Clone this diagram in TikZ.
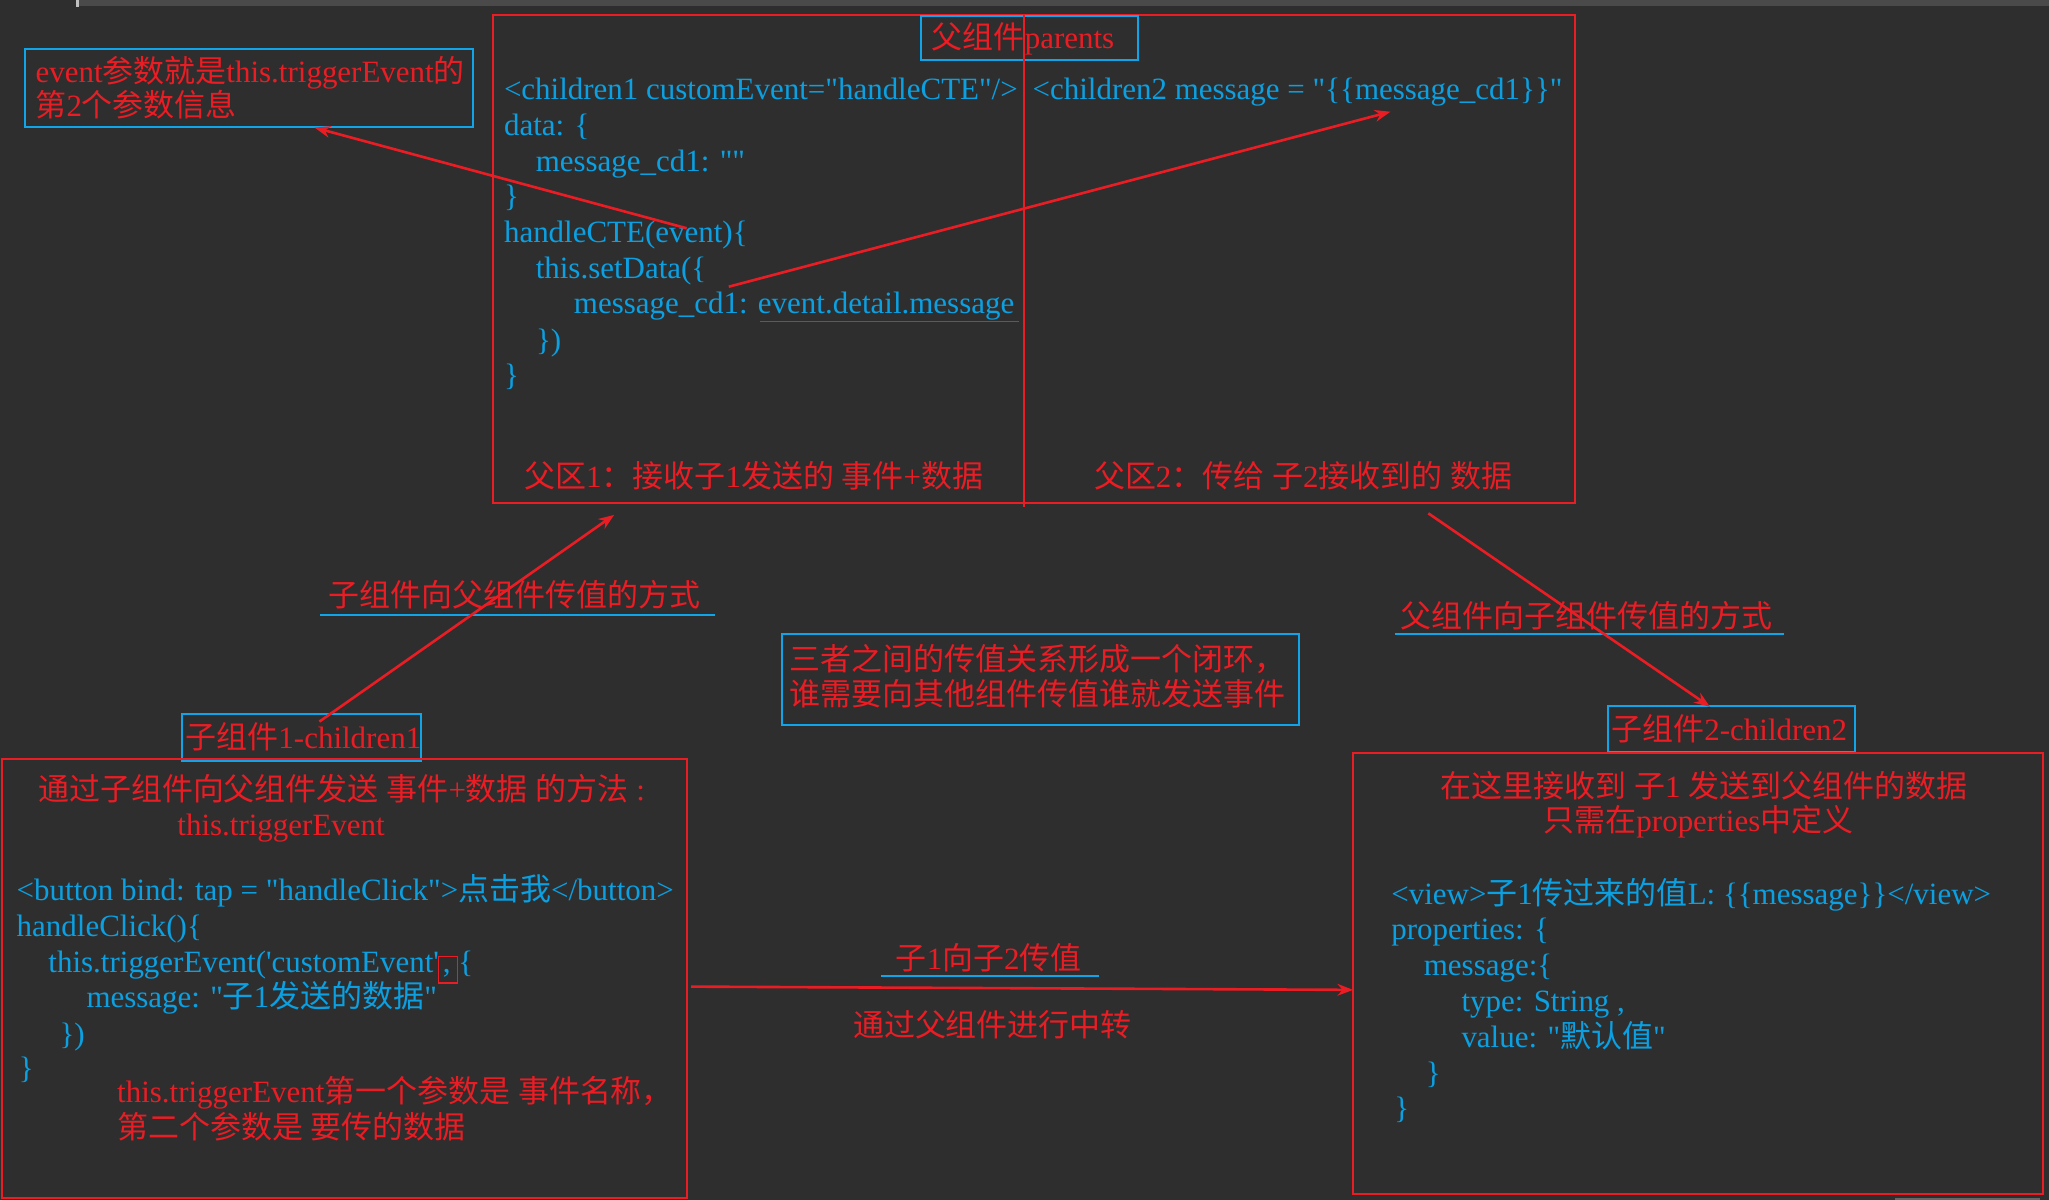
\documentclass[tikz,border=0pt]{standalone}
\usepackage{fontspec}
\newfontfamily\lat{Liberation Serif}
\newfontfamily\cjk{Noto Sans CJK SC}
\usetikzlibrary{arrows.meta}
\definecolor{bg}{RGB}{46,46,46}
\definecolor{topbar}{RGB}{74,74,74}
\definecolor{rd}{RGB}{234,28,36}
\definecolor{bl}{RGB}{10,160,226}
\definecolor{bx}{RGB}{16,164,232}
\newcommand\zh[1]{{\cjk #1}}
\begin{document}
\begin{tikzpicture}[x=1pt,y=-1pt,
  txt/.style={anchor=base west, inner sep=0pt, font=\lat\fontsize{23.7}{28}\selectfont},
  code/.style={txt, text=bl},
  note/.style={txt, text=rd},
  boxnode/.style={anchor=north west, inner sep=0pt, outer sep=0pt},
  redbox/.style={boxnode, draw=rd, line width=1.6pt},
  bluebox/.style={boxnode, draw=bx, line width=1.6pt},
  arr/.style={draw=rd, line width=2pt, -{Stealth[length=12pt,width=9pt]}},
  uline/.style={draw=bx, line width=1.7pt},
  rline/.style={draw=rd, line width=1.4pt},
]
% background and window strips
\fill[bg] (0,0) rectangle (1568,918);
\useasboundingbox (0,0) rectangle (1568,918);
\fill[topbar] (58,0) rectangle (1568,4.6);
\fill[black!25!white] (58,0) rectangle (60.5,5);
\fill[black!60!white] (1450,917) rectangle (1561,918);

% ---------- boxes ----------
\node[bluebox, minimum width=343.2pt, minimum height=59.7pt] (evbox) at (18.8,37.5) {};
\node[redbox, minimum width=827.6pt, minimum height=373.2pt] (parent) at (377.6,11.5) {};
\node[bluebox, minimum width=166pt, minimum height=34pt] (pbox) at (704.7,12) {};
\node[bluebox, minimum width=395.6pt, minimum height=69.8pt] (cbox) at (598.3,485.2) {};
\node[bluebox, minimum width=183.4pt, minimum height=35.4pt] (c1label) at (139,546.6) {};
\node[redbox, minimum width=524.3pt, minimum height=336pt] (c1box) at (1.7,581) {};
\node[bluebox, minimum width=189.6pt, minimum height=35.7pt] (c2label) at (1230.2,540) {};
\node[redbox, minimum width=528.4pt, minimum height=337.5pt] (c2box) at (1035.1,576) {};
\node[redbox, line width=1.3pt, minimum width=14.7pt, minimum height=20.4pt] (commabox) at (335.5,732) {};

% ---------- texts: note box ----------
\node[note] (ev1) at (27,63) {event\zh{参数就是}this.triggerEvent\zh{的}};
\node[note] (ev2) at (27,89) {\zh{第}2\zh{个参数信息}};

% ---------- parent ----------
\node[note] (ptitle) at (712.9,37) {\zh{父组件}parents};
\node[code] (L1) at (385.5,76) {<children1 customEvent="handleCTE"/>};
\node[code] (L2) at (385.5,103.5) {data: \{};
\node[code] (L3) at (409.8,131) {message\_cd1: ""};
\node[code] (L4) at (385.5,158) {\}};
\node[code] (L5) at (385.5,185.5) {handleCTE(event)\{};
\node[code] (L6) at (409.8,213) {this.setData(\{};
\node[code] (L7) at (439,240) {message\_cd1: event.detail.message};
\node[code] (L8) at (410,268) {\})};
\node[code] (L9) at (385.5,295) {\}};
\node[code] (R1) at (790,76) {<children2 message = "\{\{message\_cd1\}\}"};
\node[note] (F1) at (401,373) {\zh{父区}1\zh{：接收子}1\zh{发送的} \zh{事件}+\zh{数据}};
\node[note] (F2) at (837,373) {\zh{父区}2\zh{：传给} \zh{子}2\zh{接收到的} \zh{数据}};

% ---------- middle labels ----------
\node[note] (lab1) at (251.3,464) {\zh{子组件向父组件传值的方式}};
\node[note] (lab2) at (1071.8,480) {\zh{父组件向子组件传值的方式}};
\node[note] (cb1) at (604,513) {\zh{三者之间的传值关系形成一个闭环，}};
\node[note] (cb2) at (604,540) {\zh{谁需要向其他组件传值谁就发送事件}};
\node[note] (lab3) at (685.3,742) {\zh{子}1\zh{向子}2\zh{传值}};
\node[note] (lab4) at (652.6,793) {\zh{通过父组件进行中转}};

% ---------- child 1 ----------
\node[note] (c1t) at (141.8,572.8) {\zh{子组件}1-children1};
\node[note] (C1) at (29,612.8) {\zh{通过子组件向父组件发送} \zh{事件}+\zh{数据} \zh{的方法} :};
\node[note] (C2) at (135.6,639.4) {this.triggerEvent};
\node[code] (C3) at (12.6,689.3) {<button bind: tap = "handleClick">\zh{点击我}</button>};
\node[code] (C4) at (12.6,716.5) {handleClick()\{};
\node[code] (C5) at (36.9,744) {this.triggerEvent('customEvent'\hspace{3pt},\hspace{6pt}\{};
\node[code] (C6) at (66,771.2) {message: "\zh{子}1\zh{发送的数据}"};
\node[code] (C7) at (45.4,799) {\})};
\node[code] (C8) at (14.3,825) {\}};
\node[note] (C9) at (89.5,844) {this.triggerEvent\zh{第一个参数是} \zh{事件名称，}};
\node[note] (C10) at (89.5,871.4) {\zh{第二个参数是} \zh{要传的数据}};

% ---------- child 2 ----------
\node[note] (c2t) at (1233,566.3) {\zh{子组件}2-children2};
\node[note] (D1) at (1102.2,610) {\zh{在这里接收到} \zh{子}1 \zh{发送到父组件的数据}};
\node[note] (D2) at (1181,636.4) {\zh{只需在}properties\zh{中定义}};
\node[code] (D3) at (1064.5,691.8) {<view>\zh{子}1\zh{传过来的值}L: \{\{message\}\}</view>};
\node[code] (D4) at (1064.5,719.3) {properties: \{};
\node[code] (D5) at (1089.4,746.6) {message:\{};
\node[code] (D6) at (1118.2,774.2) {type: String ,};
\node[code] (D7) at (1118.2,801.7) {value: "\zh{默认值}"};
\node[code] (D8) at (1091,829) {\}};
\node[code] (D9) at (1066.9,856) {\}};

% ---------- lines ----------
\coordinate (dvt) at (783.4,11.5);
\coordinate (dvb) at (783.4,388.3);
\draw[rd, line width=1.3pt] (dvt) -- (dvb);

\coordinate (ula) at (581.6,246);
\coordinate (ulb) at (780,246);
\draw[rline] (ula) -- (ulb);

\coordinate (u1a) at (244.9,470.4);
\coordinate (u1b) at (547.1,470.4);
\draw[uline] (u1a) -- (u1b);
\coordinate (u2a) at (1067.5,485.2);
\coordinate (u2b) at (1365,485.2);
\draw[uline] (u2a) -- (u2b);
\coordinate (u3a) at (674,746.8);
\coordinate (u3b) at (840.8,746.8);
\draw[uline] (u3a) -- (u3b);

% ---------- arrows ----------
\coordinate (a1s) at (525.5,174.7);
\coordinate (a1e) at (240.8,97.7);
\draw[arr] (a1s) -- (a1e);
\coordinate (a2s) at (557.7,219.4);
\coordinate (a2e) at (1064,85.5);
\draw[arr] (a2s) -- (a2e);
\coordinate (a3s) at (244.4,552.2);
\coordinate (a3e) at (470,394);
\draw[arr] (a3s) -- (a3e);
\coordinate (a4s) at (1093,392.8);
\coordinate (a4e) at (1308.5,540.8);
\draw[arr] (a4s) -- (a4e);
\coordinate (a5s) at (528.9,755);
\coordinate (a5e) at (1035.5,757.5);
\draw[arr] (a5s) -- (a5e);
\end{tikzpicture}
\end{document}
